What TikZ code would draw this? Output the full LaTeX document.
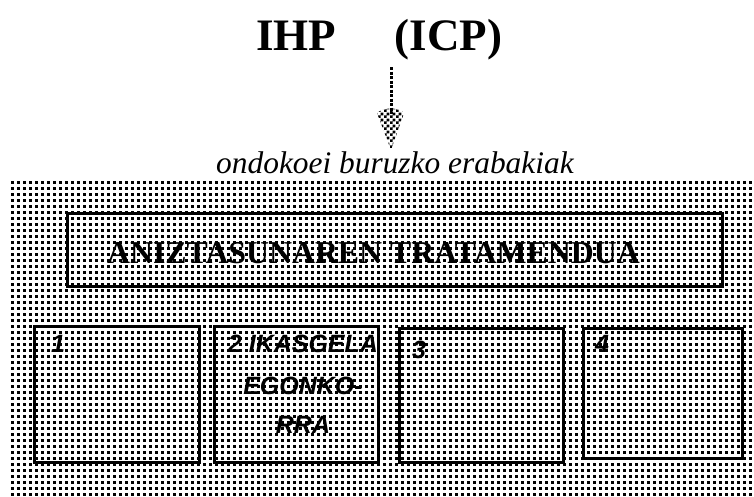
\documentclass[tikz,border=0pt]{standalone}
\usepackage{fontspec}
\setmainfont{Liberation Serif}
\newfontfamily\arialfont{Liberation Sans}
\usetikzlibrary{patterns}
\pgfdeclarepatternformonly{sqdots}{\pgfpointorigin}{\pgfqpoint{5.5pt}{5.5pt}}{\pgfqpoint{5.5pt}{5.5pt}}{%
  \pgfpathrectangle{\pgfpointorigin}{\pgfqpoint{3pt}{3pt}}\pgfusepath{fill}}
\pgfdeclarepatternformonly{chk}{\pgfpointorigin}{\pgfqpoint{6pt}{6pt}}{\pgfqpoint{6pt}{6pt}}{%
  \pgfpathrectangle{\pgfpointorigin}{\pgfqpoint{3pt}{3pt}}%
  \pgfpathrectangle{\pgfqpoint{3pt}{3pt}}{\pgfqpoint{3pt}{3pt}}\pgfusepath{fill}}
\tikzset{
  boxst/.style={draw=black, line width=2.5pt, inner sep=0pt, anchor=north west},
  titlest/.style={font=\bfseries\fontsize{45}{47}\selectfont, anchor=base, inner sep=0pt},
  bigst/.style={font=\bfseries\fontsize{31.8}{33}\selectfont, anchor=base, inner sep=0pt},
  notest/.style={font=\itshape\fontsize{31.4}{33}\selectfont, anchor=base west, inner sep=0pt},
  numst/.style={font=\arialfont\bfseries\itshape\fontsize{25}{27}\selectfont, inner sep=0pt},
  dotline/.style={line width=3pt, dash pattern=on 3pt off 1.5pt},
}
\begin{document}
\begin{tikzpicture}[x=1pt,y=-1pt]
\useasboundingbox (0,0) rectangle (754,496);
% dotted background
\fill[pattern=sqdots] (11,181) rectangle (752,496);
% title
\node[titlest] (ihp) at (296,50) {IHP};
\node[titlest] (icp) at (448.5,50) {(ICP)};
% arrow
\coordinate (arrtop) at (391,67);
\coordinate (arrbase) at (391,114);
\coordinate (arrtip) at (391,150);
\draw[dotline] (arrtop) -- (arrbase);
\fill[pattern=chk] (377,113) .. controls (384,107) and (398,107) .. (404,113) -- (arrtip) -- cycle;
% note
\node[notest] (note) at (216,173) {ondokoei buruzko erabakiak};
% main box
\node[boxst, minimum width=655pt, minimum height=73pt] (main) at (66,212) {};
\node[bigst] (maintxt) at (373.5,263) {ANIZTASUNAREN TRATAMENDUA};
% small boxes
\node[boxst, minimum width=165pt, minimum height=136pt] (b1) at (33,325) {};
\node[boxst, minimum width=164pt, minimum height=136pt] (b2) at (213,325) {};
\node[boxst, minimum width=164pt, minimum height=134pt] (b3) at (398,327) {};
\node[boxst, minimum width=159pt, minimum height=130pt] (b4) at (582,327) {};
% labels
\node[numst, anchor=base west] (l1) at (51,352) {1};
\node[numst, anchor=base] (l2a) at (303,352) {2 IKASGELA};
\node[numst, anchor=base] (l2b) at (303,394) {EGONKO-};
\node[numst, anchor=base] (l2c) at (303,433) {RRA};
\node[numst, anchor=base west] (l3) at (412,358) {3};
\node[numst, anchor=base west] (l4) at (595,352) {4};
\end{tikzpicture}
\end{document}
